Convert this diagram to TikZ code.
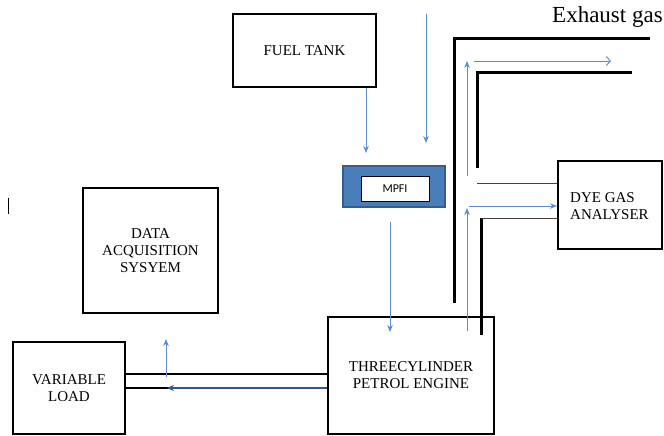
\documentclass[tikz,border=0pt]{standalone}
\usepackage{fontspec}
\setmainfont{Liberation Serif}
\newfontfamily\mpfifont{Carlito}
\usetikzlibrary{arrows.meta}
\definecolor{flow}{HTML}{5B8BC9}
\definecolor{flowdark}{HTML}{2F5597}
\definecolor{mpfiblue}{HTML}{4A7EBB}
\definecolor{mpfiedge}{HTML}{385D8A}
\definecolor{thingray}{HTML}{404040}
\begin{document}
\begin{tikzpicture}[x=1pt,y=-1pt,
  box/.style={draw=black, line width=2pt, inner sep=0pt, align=center,
              font=\fontsize{15}{17}\selectfont},
  flowarrow/.style={draw=flow, line width=0.9pt, -{Stealth[length=7pt,width=5.5pt]}, shorten <=0pt},
  flowopen/.style={draw=flow, line width=0.9pt, -{Straight Barb[length=4pt,width=9pt]}},
  pipe/.style={draw=black, line width=3pt, line join=miter},
  thinline/.style={draw=thingray, line width=1pt},
  shaft/.style={draw=black, line width=2pt}]
\useasboundingbox (0,0) rectangle (664,436);

% boxes
\node[box, minimum width=143pt, minimum height=73pt] (fuel) at (304.5,50.5) {FUEL TANK};
\node[box, minimum width=135pt, minimum height=125pt] (data) at (150.5,250.5) {DATA\\ACQUISITION\\SYSYEM};
\node[box, minimum width=112pt, minimum height=92pt] (load) at (69,388) {VARIABLE\\LOAD};
\node[box, minimum width=166pt, minimum height=117pt] (engine) at (411,375.5) {THREECYLINDER\\PETROL ENGINE};
\node[box, minimum width=104pt, minimum height=88pt] (analyser) at (610,205) {};
\node[anchor=west, align=left, font=\fontsize{15}{17}\selectfont, inner sep=0pt] (antext) at (570,206) {DYE GAS\\ANALYSER};

% MPFI
\node[draw=mpfiedge, fill=mpfiblue, line width=1.5pt, minimum width=102pt, minimum height=41pt, inner sep=0pt] (mpfi) at (394,186.5) {};
\node[draw=black, fill=white, line width=0.6pt, minimum width=68pt, minimum height=25pt, inner sep=0pt, font=\mpfifont\fontsize{12}{14}\selectfont] (mpfiin) at (395,188.5) {MPFI};

% exhaust label
\node[anchor=base west, inner sep=0pt, font=\fontsize{23}{25}\selectfont] (exh) at (552,23) {Exhaust gas};

% pipes
\coordinate (p1) at (454,303);
\coordinate (p2) at (454,39);
\coordinate (p3) at (650,39);
\draw[pipe] (p1) -- (p2) -- (p3);
\coordinate (q1) at (477,168);
\coordinate (q2) at (477,73);
\coordinate (q3) at (632,73);
\draw[pipe] (q1) -- (q2) -- (q3);
\coordinate (r1) at (481,335);
\coordinate (r2) at (481,218);
\draw[pipe] (r1) -- (r2);
\coordinate (t1) at (477,183);
\draw[thinline] (t1) -- (t1 -| analyser.west);
\draw[thinline] (r2) -- (r2 -| analyser.west);

% flow arrows
\coordinate (ftip) at (366,153);
\draw[flowarrow] (fuel.south -| ftip) -- (ftip);
\coordinate (ttop) at (426,14);
\coordinate (ttip) at (426,143);
\draw[flowarrow] (ttop) -- (ttip);
\coordinate (m1) at (390,222);
\coordinate (m2) at (390,332);
\draw[flowarrow] (m1) -- (m2);
\coordinate (e1) at (467,331);
\coordinate (e2) at (467,208);
\draw[flowarrow] (e1) -- (e2);
\coordinate (a1) at (469,206);
\draw[flowarrow] (a1) -- (a1 -| analyser.west);
\coordinate (u0) at (467,176);
\coordinate (u1) at (467,61);
\draw[flowarrow] (u0) -- (u1);
\coordinate (u2) at (474,61);
\coordinate (u3) at (611,61);
\draw[flowopen] (u2) -- (u3);

% shaft
\coordinate (s1) at (0,374);
\coordinate (s2) at (0,388);
\draw[shaft] (load.east |- s1) -- (engine.west |- s1);
\draw[shaft] (load.east |- s2) -- (engine.west |- s2);
\coordinate (sh) at (167,388);
\draw[flowarrow, draw=flowdark, line width=1.2pt, -{Stealth[length=7pt,width=6pt,fill=flow]}] (engine.west |- s2) -- (sh);
\coordinate (v0) at (166,377);
\coordinate (v1) at (166,339);
\draw[flowarrow] (v0) -- (v1);

% stray tick
\coordinate (k0) at (8,198);
\coordinate (k1) at (8,214);
\draw[line width=0.8pt] (k0) -- (k1);
\end{tikzpicture}
\end{document}
